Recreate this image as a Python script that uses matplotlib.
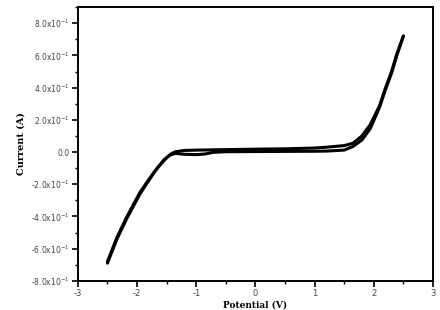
import numpy as np
import matplotlib
matplotlib.use("Agg")
import matplotlib.pyplot as plt
from matplotlib.ticker import MultipleLocator, FixedLocator

# ── Data ──────────────────────────────────────────────────────────────────────
# forward sweep (upper branch in the flat region)
fwd_v = [-2.5, -2.34, -2.17, -1.95, -1.8, -1.66, -1.5, -1.42, -1.35, -1.2,
         -1.0, -0.5, 0.0, 0.5, 1.0, 1.2, 1.5, 1.65, 1.8, 1.94, 2.1, 2.19, 2.3,
         2.39, 2.5]
fwd_i = [-0.68, -0.53, -0.40, -0.25, -0.17, -0.10, -0.035, -0.01, 0.002,
         0.01, 0.012, 0.015, 0.018, 0.02, 0.025, 0.03, 0.04, 0.055, 0.10,
         0.17, 0.29, 0.39, 0.50, 0.61, 0.72]
# reverse sweep (lower branch)
rev_v = [2.5, 2.39, 2.3, 2.19, 2.1, 1.94, 1.8, 1.65, 1.5, 1.2, 1.0, 0.5, 0.0,
         -0.5, -0.72, -0.85, -1.0, -1.2, -1.35, -1.45, -1.55, -1.7, -1.95,
         -2.17, -2.34, -2.5]
rev_i = [0.72, 0.60, 0.49, 0.38, 0.28, 0.145, 0.075, 0.035, 0.012, 0.006,
         0.005, 0.004, 0.003, 0.002, -0.002, -0.012, -0.016, -0.014, -0.008,
         -0.02, -0.05, -0.12, -0.26, -0.41, -0.54, -0.69]

y_ticks = [-0.8, -0.6, -0.4, -0.2, 0.0, 0.2, 0.4, 0.6, 0.8]
y_labels = ["-8.0x10$^{-1}$", "-6.0x10$^{-1}$", "-4.0x10$^{-1}$",
            "-2.0x10$^{-1}$", "0.0", "2.0x10$^{-1}$", "4.0x10$^{-1}$",
            "6.0x10$^{-1}$", "8.0x10$^{-1}$"]
x_ticks = [-3, -2, -1, 0, 1, 2, 3]


def main() -> None:
    fig = plt.figure(figsize=(4.4, 3.1), dpi=100, facecolor="white")
    ax = fig.add_axes([0.177, 0.094, 0.807, 0.883])

    ax.plot(fwd_v, fwd_i, color="black", lw=2.2, solid_capstyle="round",
            solid_joinstyle="round")
    ax.plot(rev_v, rev_i, color="black", lw=2.2, solid_capstyle="round",
            solid_joinstyle="round")

    ax.set_xlim(-3, 3)
    ax.set_ylim(-0.8, 0.9)

    ax.xaxis.set_major_locator(FixedLocator(x_ticks))
    ax.xaxis.set_minor_locator(MultipleLocator(0.5))
    ax.yaxis.set_major_locator(FixedLocator(y_ticks))
    ax.yaxis.set_minor_locator(MultipleLocator(0.1))
    ax.set_xticklabels([str(t) for t in x_ticks])
    ax.set_yticklabels(y_labels)

    ax.tick_params(which="major", direction="out", length=4, width=1.2,
                   labelsize=6, labelcolor="#444444", pad=2)
    ax.tick_params(which="minor", direction="out", length=2.5, width=1.0)
    ax.tick_params(axis="y", labelsize=5.5)

    for spine in ax.spines.values():
        spine.set_linewidth(1.4)

    ax.set_xlabel("Potential (V)", family="DejaVu Serif", fontweight="bold",
                  fontsize=6.5, labelpad=2)
    ax.set_ylabel("Current (A)", family="DejaVu Serif", fontweight="bold",
                  fontsize=7, labelpad=4)

    fig.savefig("out.png", dpi=100, facecolor="white")
    plt.close(fig)


if __name__ == "__main__":
    main()
